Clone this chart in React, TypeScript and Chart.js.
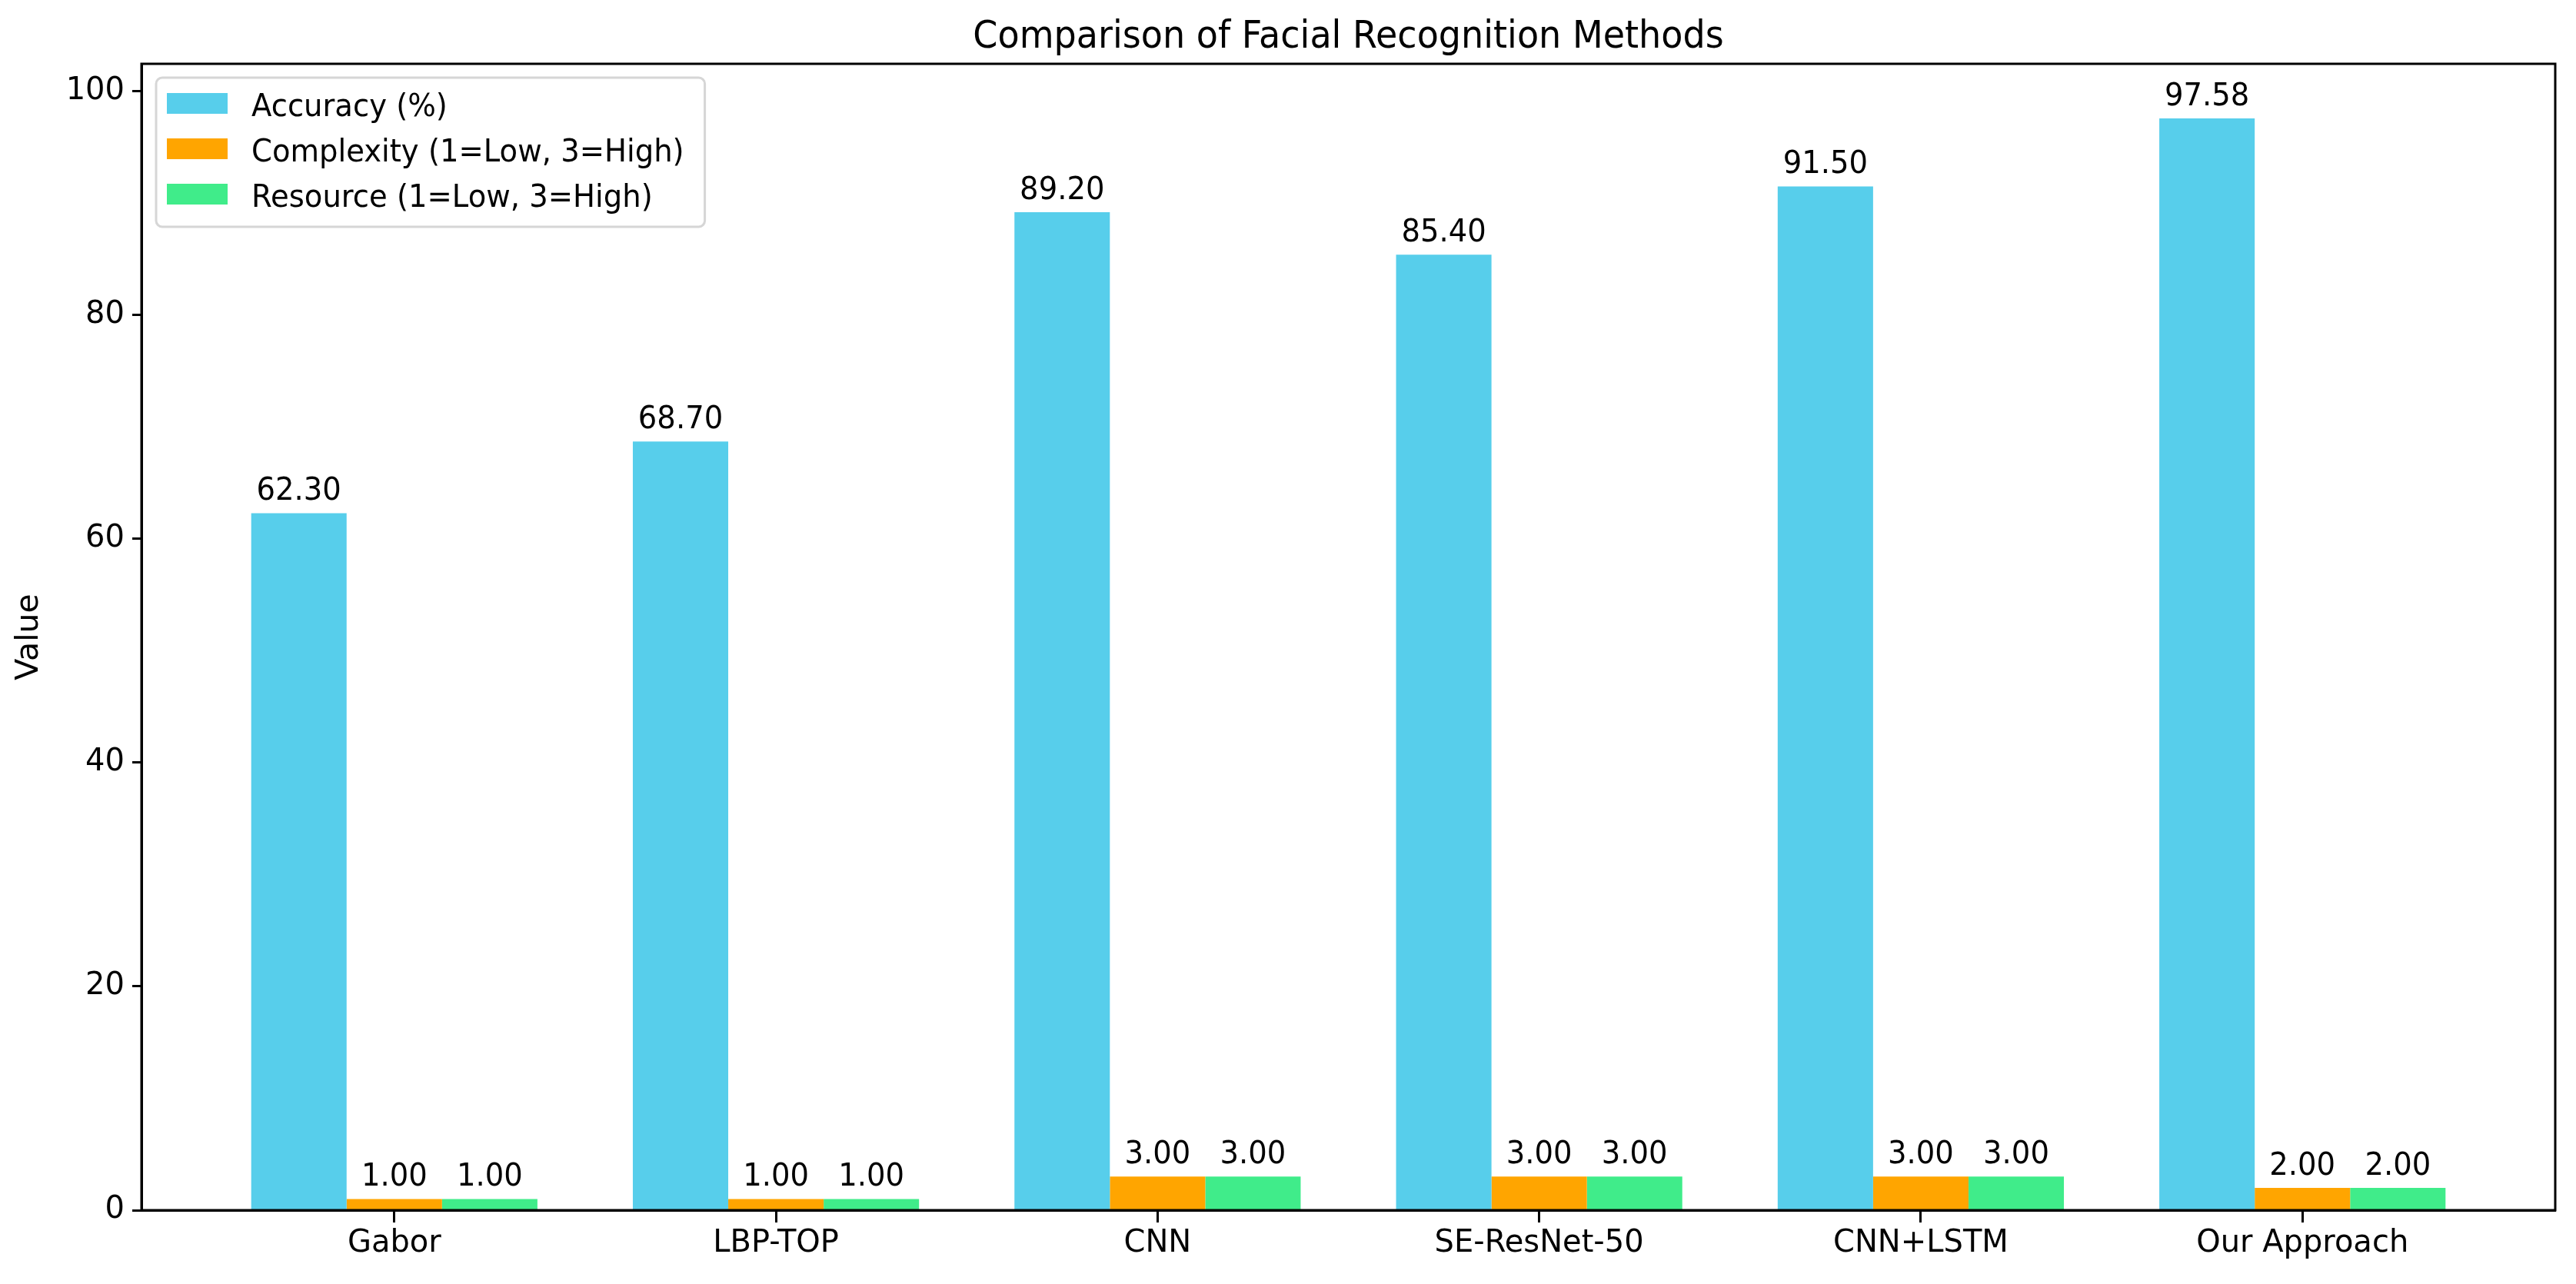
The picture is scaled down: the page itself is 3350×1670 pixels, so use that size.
import React, { useEffect, useRef } from 'react';
import { Chart, registerables } from 'chart.js';

Chart.register(...registerables);

const categories = ['Gabor', 'LBP-TOP', 'CNN', 'SE-ResNet-50', 'CNN+LSTM', 'Our Approach'];
const accuracy = [62.3, 68.7, 89.2, 85.4, 91.5, 97.58];
const complexity = [1, 1, 3, 3, 3, 2];
const resource = [1, 1, 3, 3, 3, 2];
const seriesLabels = ['Accuracy (%)', 'Complexity (1=Low, 3=High)', 'Resource (1=Low, 3=High)'];
const seriesColors = ['#57CEEB', '#FFA500', '#40EC8A'];
const yTicks = [0, 20, 40, 60, 80, 100];
const titleText = 'Comparison of Facial Recognition Methods';
const yAxisLabel = 'Value';

const FONT = '"DejaVu Sans", sans-serif';
const W = 3350;
const H = 1670;
const SX = 0.94;

function drawText(ctx: CanvasRenderingContext2D, text: string, x: number, y: number) {
  ctx.save();
  ctx.translate(x, y);
  ctx.scale(SX, 1);
  ctx.fillText(text, 0, 0);
  ctx.restore();
}

const overlayPlugin = {
  id: 'overlay',
  afterDatasetsDraw(chart: any) {
    const ctx = chart.ctx;
    const area = chart.chartArea;
    ctx.save();
    ctx.fillStyle = '#000';
    ctx.font = `41px ${FONT}`;
    ctx.textAlign = 'center';
    ctx.textBaseline = 'alphabetic';
    chart.data.datasets.forEach((ds: any, di: number) => {
      const meta = chart.getDatasetMeta(di);
      meta.data.forEach((el: any, i: number) => {
        const v = ds.data[i].y;
        drawText(ctx, v.toFixed(2), el.x, el.y - 17);
      });
    });
    ctx.strokeStyle = '#000';
    ctx.lineWidth = 3;
    ctx.strokeRect(area.left, area.top, area.right - area.left, area.bottom - area.top);
    ctx.restore();
  },
  afterDraw(chart: any) {
    const ctx = chart.ctx;
    const area = chart.chartArea;
    ctx.save();
    ctx.fillStyle = '#000';
    ctx.font = `49px ${FONT}`;
    ctx.textAlign = 'center';
    ctx.textBaseline = 'alphabetic';
    drawText(ctx, titleText, (area.left + area.right) / 2, 62);
    ctx.save();
    ctx.translate(38, (area.top + area.bottom) / 2);
    ctx.rotate(-Math.PI / 2);
    ctx.font = `41px ${FONT}`;
    ctx.textAlign = 'center';
    ctx.textBaseline = 'middle';
    ctx.fillText(yAxisLabel, 0, 0);
    ctx.restore();
    ctx.font = `41px ${FONT}`;
    const textX = 327;
    const maxW = Math.max(...seriesLabels.map((l) => ctx.measureText(l).width)) * SX;
    const boxL = 203;
    const boxT = 101;
    const boxR = textX + maxW + 27;
    const boxB = 295;
    ctx.beginPath();
    (ctx as any).roundRect(boxL, boxT, boxR - boxL, boxB - boxT, 8);
    ctx.fillStyle = 'rgba(255,255,255,0.8)';
    ctx.fill();
    ctx.strokeStyle = '#d6d6d6';
    ctx.lineWidth = 3;
    ctx.stroke();
    const rowCenters = [134, 193, 252];
    chart.data.datasets.forEach((ds: any, di: number) => {
      const cy = rowCenters[di];
      ctx.fillStyle = ds.backgroundColor;
      ctx.fillRect(217, cy - 13, 79, 27);
      ctx.fillStyle = '#000';
      ctx.textAlign = 'left';
      ctx.textBaseline = 'alphabetic';
      drawText(ctx, ds.label, textX, cy + 17);
    });
    ctx.restore();
  },
};

export default function App() {
  const ref = useRef<HTMLCanvasElement | null>(null);
  useEffect(() => {
    if (!ref.current) return;
    const series = [accuracy, complexity, resource];
    const chart = new Chart(ref.current, {
      type: 'bar',
      data: {
        datasets: series.map((vals, si) => ({
          label: seriesLabels[si],
          data: vals.map((y, i) => ({ x: i, y })),
          backgroundColor: seriesColors[si],
          borderWidth: 0,
          categoryPercentage: 0.75,
          barPercentage: 1.0,
        })),
      } as any,
      options: {
        animation: false,
        responsive: false,
        devicePixelRatio: 1,
        layout: { padding: { left: 0, top: 83, right: 27, bottom: 0 } },
        plugins: {
          legend: { display: false },
          title: { display: false },
          tooltip: { enabled: false },
        },
        scales: {
          x: {
            type: 'linear',
            min: -0.6625,
            max: 5.6625,
            offset: false,
            afterBuildTicks: (s: any) => {
              s.ticks = categories.map((_, i) => ({ value: i }));
            },
            afterFit: (s: any) => {
              s.height = 96;
            },
            ticks: {
              callback: (v: any) => categories[v as number],
              font: { family: FONT, size: 40 },
              color: '#000',
              padding: 4,
              maxRotation: 0,
              autoSkip: false,
            },
            grid: {
              drawOnChartArea: false,
              drawTicks: true,
              tickLength: 16,
              tickWidth: 3,
              tickColor: '#000',
              offset: false,
            },
            border: { display: true, color: '#000', width: 3 },
          },
          y: {
            type: 'linear',
            min: 0,
            max: 102.46,
            afterBuildTicks: (s: any) => {
              s.ticks = yTicks.map((v) => ({ value: v }));
            },
            afterFit: (s: any) => {
              s.width = 184;
            },
            ticks: {
              font: { family: FONT, size: 40 },
              color: '#000',
              padding: 10,
            },
            grid: {
              drawOnChartArea: false,
              drawTicks: true,
              tickLength: 12,
              tickWidth: 3,
              tickColor: '#000',
            },
            border: { display: true, color: '#000', width: 3 },
          },
        },
      } as any,
      plugins: [overlayPlugin],
    });
    return () => chart.destroy();
  }, []);
  return (
    <div style={{ position: 'fixed', left: 0, top: 0, width: W, height: H, background: '#fff' }}>
      <canvas ref={ref} width={W} height={H} style={{ display: 'block', width: W, height: H }} />
    </div>
  );
}
